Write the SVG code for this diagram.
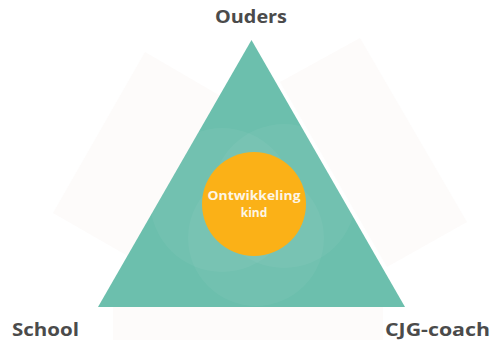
<svg xmlns="http://www.w3.org/2000/svg" width="499" height="340" viewBox="0 0 499 340">
<style>
.bgrect{fill:#fdfbfa}
.lbl{font-family:"Open Sans","Liberation Sans",sans-serif;font-weight:700;fill:#4b4b4b;font-size:17px}
.in{font-family:"Open Sans","Liberation Sans",sans-serif;font-weight:700;fill:#fdf6e6;font-size:12px;text-anchor:middle}
.petal{fill:#ffffff;opacity:0.045}
</style>
<defs>
<clipPath id="tri"><polygon points="251.5,40 98,307 405,307"/></clipPath>
</defs>
<rect width="499" height="340" fill="#ffffff"/>
<g id="background">
<polygon class="bgrect" points="145,52 265,122 173,282 53,213"/>
<polygon class="bgrect" points="360,38 467,222 387,267 280,82"/>
<rect class="bgrect" x="113" y="307" width="270" height="33"/>
</g>
<g id="triangle">
<polygon points="251.5,40 98,307 405,307" fill="#6cbfad"/>
<g clip-path="url(#tri)">
<circle class="petal" cx="222" cy="200" r="72"/>
<circle class="petal" cx="284" cy="196" r="72"/>
<circle class="petal" cx="256" cy="238" r="68"/>
</g>
</g>
<g id="center">
<circle cx="254" cy="204" r="52" fill="#fbb117"/>
<text class="in" x="254" y="200" textLength="93" lengthAdjust="spacingAndGlyphs">Ontwikkeling</text>
<text class="in" x="254" y="217">kind</text>
</g>
<g id="ouders"><text class="lbl" x="215" y="23" textLength="72" lengthAdjust="spacingAndGlyphs">Ouders</text></g>
<g id="school"><text class="lbl" x="12" y="336" textLength="67" lengthAdjust="spacingAndGlyphs">School</text></g>
<g id="cjg"><text class="lbl" x="385" y="336" textLength="105" lengthAdjust="spacingAndGlyphs">CJG-coach</text></g>
<g id="connectors"></g>
</svg>
